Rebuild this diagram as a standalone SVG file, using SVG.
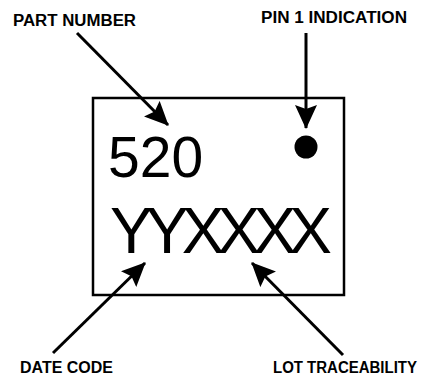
<svg xmlns="http://www.w3.org/2000/svg" width="425" height="380" viewBox="0 0 425 380">
<style>
.lbl{font-family:"Liberation Sans",Arial,sans-serif;font-weight:bold;font-size:16px;fill:#000}
.big{font-family:"Liberation Sans",Arial,sans-serif;fill:#000}
.conn{stroke:#000;stroke-width:3;fill:none;marker-end:url(#ah)}
</style>
<defs>
<marker id="ah" markerUnits="userSpaceOnUse" markerWidth="24" markerHeight="22" viewBox="0 0 24 22" refX="23" refY="11" orient="auto">
<path d="M0,0 L24,11 L0,22 L4,11 Z" fill="#000"/>
</marker>
</defs>
<g id="chip">
<rect x="93" y="98" width="251" height="197" fill="#fff" stroke="#000" stroke-width="2.5"/>
<text class="big" x="108" y="177" font-size="57">520</text>
<text class="big" x="110" y="253" font-size="64" textLength="222" lengthAdjust="spacing">YYXXXX</text>
<circle cx="306" cy="147" r="11.5" fill="#000"/>
</g>
<g id="labels">
<text class="lbl" x="13" y="26" textLength="123" lengthAdjust="spacingAndGlyphs">PART NUMBER</text>
<text class="lbl" x="261" y="23" textLength="146" lengthAdjust="spacingAndGlyphs">PIN 1 INDICATION</text>
<text class="lbl" x="20" y="373" textLength="93" lengthAdjust="spacingAndGlyphs">DATE CODE</text>
<text class="lbl" x="273" y="373" textLength="144" lengthAdjust="spacingAndGlyphs">LOT TRACEABILITY</text>
</g>
<g id="connectors">
<line class="conn" x1="77" y1="33" x2="168" y2="125"/>
<line class="conn" x1="306" y1="33" x2="306" y2="128"/>
<line class="conn" x1="53" y1="353" x2="145" y2="263"/>
<line class="conn" x1="343" y1="355" x2="252" y2="263"/>
</g>
</svg>
